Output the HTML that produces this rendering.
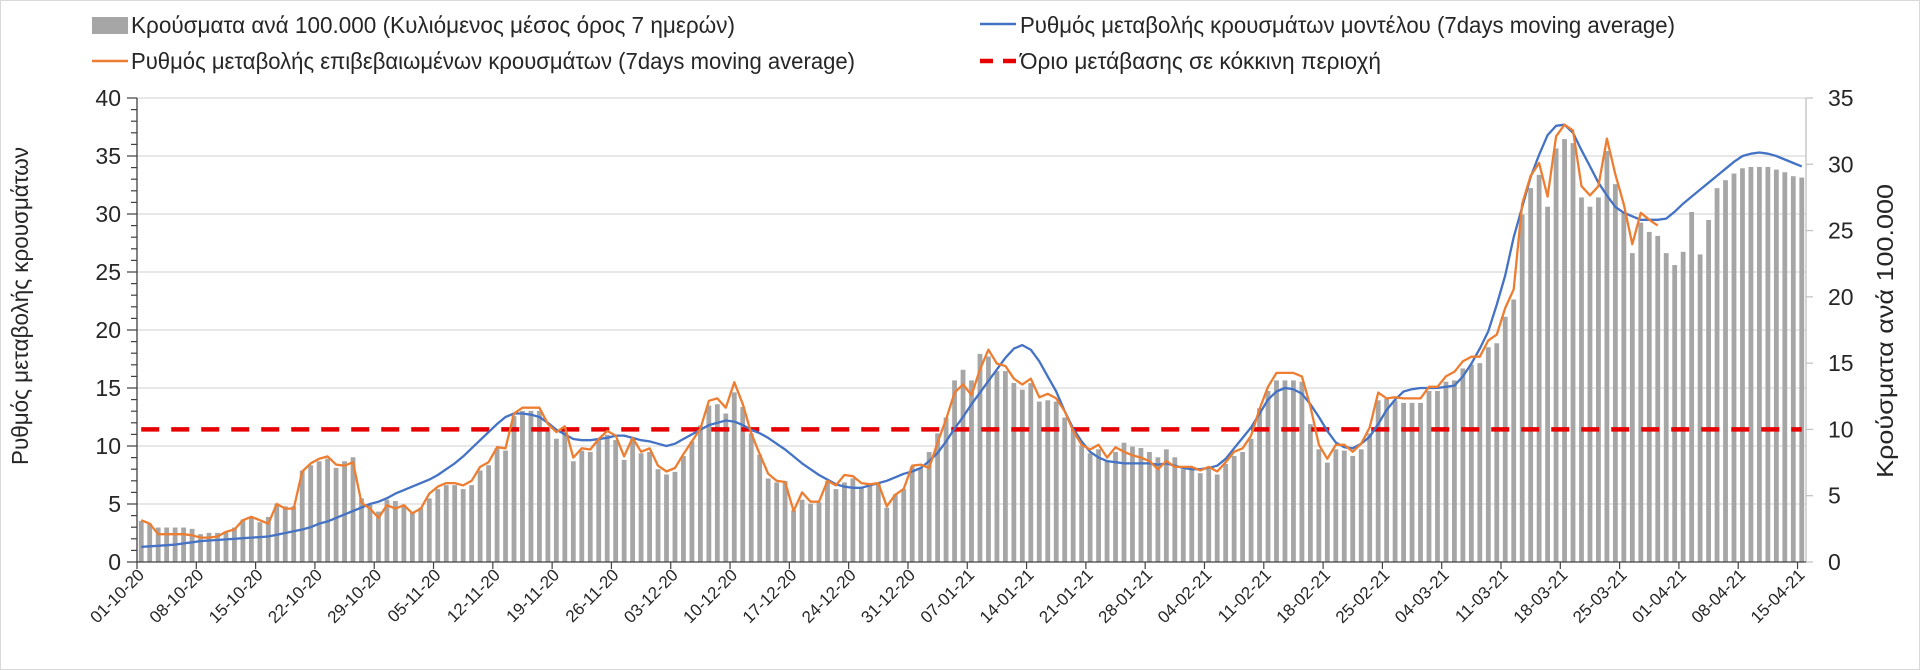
<!DOCTYPE html>
<html><head><meta charset="utf-8"><style>
html,body{margin:0;padding:0;background:#fff;}
svg{display:block;font-family:"Liberation Sans",sans-serif;}
</style></head><body>
<svg id="chart" width="1920" height="670" viewBox="0 0 1920 670" xmlns="http://www.w3.org/2000/svg">
<rect x="0.5" y="0.5" width="1919" height="669" fill="#fff" stroke="#d9d9d9"/>
<g>
 <g>
  <rect x="92" y="17" width="36" height="17" fill="#a6a6a6"/>
  <text x="131" y="33" font-size="23" fill="#262626" textLength="604" lengthAdjust="spacingAndGlyphs">Κρούσματα ανά 100.000 (Κυλιόμενος μέσος όρος 7 ημερών)</text>
 </g>
 <g>
  <line x1="92" y1="61" x2="128" y2="61" stroke="#ed7d31" stroke-width="2.5"/>
  <text x="131" y="69" font-size="23" fill="#262626" textLength="724" lengthAdjust="spacingAndGlyphs">Ρυθμός μεταβολής επιβεβαιωμένων κρουσμάτων (7days moving average)</text>
 </g>
 <g>
  <line x1="980" y1="24" x2="1016" y2="24" stroke="#4472c4" stroke-width="2.5"/>
  <text x="1020" y="33" font-size="23" fill="#262626" textLength="655" lengthAdjust="spacingAndGlyphs">Ρυθμός μεταβολής κρουσμάτων μοντέλου (7days moving average)</text>
 </g>
 <g>
  <line x1="980" y1="61" x2="1016" y2="61" stroke="#e60000" stroke-width="4.5" stroke-dasharray="13,10"/>
  <text x="1020" y="69" font-size="23" fill="#262626" textLength="361" lengthAdjust="spacingAndGlyphs">Όριο μετάβασης σε κόκκινη περιοχή</text>
 </g>
</g>
<g id="grid"></g>
<g id="bars"></g>
<g id="lines"></g>
<g id="axes"></g>
<text transform="translate(28,306) rotate(-90)" text-anchor="middle" font-size="23" fill="#262626" textLength="318" lengthAdjust="spacingAndGlyphs">Ρυθμός μεταβολής κρουσμάτων</text>
<text transform="translate(1893,331) rotate(-90)" text-anchor="middle" font-size="23" fill="#262626" textLength="294" lengthAdjust="spacingAndGlyphs">Κρούσματα ανά 100.000</text>
</svg>
<script>
const tickLabels = ["01-10-20","08-10-20","15-10-20","22-10-20","29-10-20","05-11-20","12-11-20","19-11-20","26-11-20","03-12-20","10-12-20","17-12-20","24-12-20","31-12-20","07-01-21","14-01-21","21-01-21","28-01-21","04-02-21","11-02-21","18-02-21","25-02-21","04-03-21","11-03-21","18-03-21","25-03-21","01-04-21","08-04-21","15-04-21"];
const leftTicks = [0,5,10,15,20,25,30,35,40];
const rightTicks = [0,5,10,15,20,25,30,35];
const redThreshold = [10];
const cases = [3.1,2.9,2.6,2.6,2.6,2.6,2.5,2.1,2.2,2.2,
2.3,2.6,3.2,3.4,3.0,3.4,4.4,4.2,4.2,6.9,
7.3,7.6,7.8,7.1,7.6,7.9,4.8,4.3,3.8,4.7,
4.6,4.3,3.7,4.1,4.8,5.5,5.8,5.8,5.5,5.8,
6.9,7.3,8.6,8.4,11.0,11.4,11.4,11.4,10.1,9.3,
10.1,7.6,8.4,8.3,9.2,
9.6,9.2,7.7,9.3,8.2,8.3,7.0,6.6,6.8,8.0,
9.1,10.3,11.8,11.9,11.2,12.8,11.7,9.7,8.1,6.3,
6.0,6.1,3.9,4.7,4.4,4.5,6.1,5.5,6.0,6.3,
5.6,5.8,5.9,4.1,5.1,5.5,7.2,7.1,8.3,9.7,
10.9,13.7,14.5,13.7,15.7,15.5,14.4,14.4,13.5,13.0,
13.5,12.1,12.2,12.1,10.9,9.8,8.8,8.2,8.5,7.6,
8.3,9.0,8.7,8.6,8.3,7.9,
8.5,7.9,7.0,7.0,6.7,7.0,6.6,7.4,8.0,8.3,
9.3,11.6,12.9,13.7,13.7,13.7,13.6,10.4,8.5,7.5,
8.5,8.4,8.0,8.5,9.7,12.2,12.3,12.2,12.0,12.0,
12.0,12.9,12.9,13.6,13.7,14.6,14.9,15.0,16.2,16.5,
18.5,19.8,26.2,28.2,29.2,26.8,31.2,31.9,31.6,27.5,
26.8,27.5,31.0,28.5,26.4,23.3,25.6,24.9,24.6,23.3,
22.4,23.4,26.4,23.2,25.8,28.2,28.8,29.3,29.7,29.8,
29.8,29.8,29.6,29.4,29.1,29.0];
const confirmedRate = [3.6,3.3,2.4,2.4,2.4,2.4,2.3,2.1,2.1,2.2,
2.6,2.8,3.6,3.9,3.6,3.3,5.0,4.6,4.6,7.8,
8.5,8.9,9.1,8.4,8.3,8.6,5.1,4.6,3.8,4.9,
4.6,4.9,4.2,4.6,5.9,6.5,6.8,6.8,6.6,7.0,
8.2,8.6,9.9,9.8,12.8,13.3,13.3,13.3,11.9,11.2,
11.7,9.0,9.8,9.7,10.6,
11.3,10.9,9.1,10.7,9.5,9.8,8.3,7.8,8.1,9.3,
10.4,11.5,13.9,14.1,13.3,15.5,13.6,11.1,9.3,7.6,
7.0,6.9,4.4,6.0,5.2,5.2,7.0,6.6,7.5,7.4,
6.8,6.7,6.8,4.8,5.8,6.3,8.3,8.4,8.1,10.3,
12.3,14.6,15.3,14.4,16.6,18.3,17.1,16.9,15.8,15.3,
15.8,14.2,14.5,14.1,13.0,11.3,10.1,9.7,10.1,9.0,
9.9,9.5,9.2,9.0,8.7,8.0,
8.7,8.2,8.2,8.2,7.9,8.2,7.8,8.6,9.5,9.8,
10.9,13.2,15.1,16.3,16.3,16.3,16.0,13.4,10.1,8.9,
10.1,10.1,9.5,10.2,11.6,14.6,14.1,14.2,14.1,14.1,
14.1,15.1,15.1,16.0,16.4,17.3,17.7,17.7,19.1,19.6,
21.9,23.5,30.9,33.3,34.4,31.5,36.7,37.7,37.2,32.4,
31.6,32.4,36.5,33.4,30.8,27.4,30.1,29.5,29.0];
const modelRate = [1.3,1.35,1.4,1.45,1.5,1.6,1.7,1.8,1.85,1.9,
1.95,2.0,2.05,2.1,2.15,2.2,2.35,2.5,2.65,2.8,
3.0,3.3,3.5,3.8,4.1,4.4,4.7,5.0,5.2,5.5,
5.9,6.2,6.5,6.8,7.1,7.5,8.0,8.5,9.1,9.8,
10.5,11.2,11.9,12.5,12.8,12.8,12.7,12.5,12.0,11.4,
11.0,10.6,10.5,10.5,10.6,10.7,10.9,10.9,10.7,10.5,
10.4,10.2,10.0,10.2,10.6,11.0,11.4,11.8,12.0,12.2,
12.1,11.8,11.4,11.1,10.7,10.2,9.7,9.1,8.5,8.0,
7.5,7.1,6.7,6.5,6.4,6.4,6.6,6.8,7.0,7.3,
7.6,7.8,8.1,8.7,9.4,10.4,11.5,12.5,13.6,14.6,
15.6,16.6,17.6,18.4,18.7,18.3,17.3,16.0,14.7,13.0,
11.5,10.4,9.5,9.0,8.7,8.6,8.5,8.5,8.5,8.5,
8.4,8.5,8.3,8.1,8.0,8.0,8.1,8.3,8.9,9.8,
10.7,11.6,12.8,14.0,14.7,15.0,14.9,14.5,13.6,12.5,
11.3,10.3,9.9,9.8,10.2,10.8,11.9,13.1,14.0,14.7,
14.9,15.0,15.0,15.0,15.1,15.2,16.0,17.1,18.4,19.9,
22.2,24.7,28.0,30.6,33.2,35.1,36.8,37.6,37.7,37.0,
35.5,34.1,32.7,31.6,30.6,30.1,29.8,29.5,29.5,29.5,
29.6,30.2,30.9,31.5,32.1,32.7,33.3,33.9,34.5,35.0,
35.2,35.3,35.2,35.0,34.7,34.4,34.1];

const NS = "http://www.w3.org/2000/svg";
const X0 = 137, X1 = 1806, Y0 = 562, YTOP = 98;
const N = cases.length;
const W = (X1 - X0) / N;
const xC = i => X0 + (i + 0.5) * W;
const yL = v => Y0 - v * (Y0 - YTOP) / 40;
const yR = v => Y0 - v * (Y0 - YTOP) / 35;
function mk(tag, attrs, parent) {
  const e = document.createElementNS(NS, tag);
  for (const k in attrs) e.setAttribute(k, attrs[k]);
  parent.appendChild(e);
  return e;
}
const grid = document.getElementById('grid');
const bars = document.getElementById('bars');
const lines = document.getElementById('lines');
const axes = document.getElementById('axes');

leftTicks.forEach(v => {
  if (v === 0) return;
  const g = mk('line', {x1: X0, x2: X1, y1: yL(v), y2: yL(v), stroke: '#d9d9d9', 'stroke-width': 1.3}, grid);
  
  
});

cases.forEach((v, i) => {
  const r = mk('rect', {x: xC(i) - 2.4, y: yR(v), width: 4.8, height: Y0 - yR(v), fill: '#a6a6a6'}, bars);
  
  
});

const red = mk('line', {x1: xC(0), x2: xC(N - 1), y1: yR(redThreshold[0]), y2: yR(redThreshold[0]), stroke: '#e60000', 'stroke-width': 4.5, 'stroke-dasharray': '18,12'}, lines);



const pts = arr => arr.map((v, i) => xC(i).toFixed(1) + ',' + yL(v).toFixed(1)).join(' ');
const lb = mk('polyline', {points: pts(modelRate), fill: 'none', stroke: '#4472c4', 'stroke-width': 2.3, 'stroke-linejoin': 'round'}, lines);


const lo = mk('polyline', {points: pts(confirmedRate), fill: 'none', stroke: '#ed7d31', 'stroke-width': 2.3, 'stroke-linejoin': 'round'}, lines);



// left axis
const la = mk('line', {x1: X0, x2: X0, y1: YTOP, y2: Y0, stroke: '#404040', 'stroke-width': 1.3}, axes);


for (let v = 0; v <= 40; v++) {
  const major = v % 5 === 0;
  const t = mk('line', {x1: major ? X0 - 10 : X0 - 6, x2: X0, y1: yL(v), y2: yL(v), stroke: '#404040', 'stroke-width': 1.2}, axes);
  
  
}
leftTicks.forEach(v => {
  const t = mk('text', {x: 121, y: yL(v) + 8, 'text-anchor': 'end', 'font-size': 23, fill: '#262626'}, axes);
  t.textContent = v;
  
  
});
// right axis
const ra = mk('line', {x1: X1, x2: X1, y1: YTOP, y2: Y0, stroke: '#bfbfbf', 'stroke-width': 1.3}, axes);


rightTicks.forEach(v => {
  const tk = mk('line', {x1: X1, x2: X1 + 7, y1: yR(v), y2: yR(v), stroke: '#bfbfbf', 'stroke-width': 1.2}, axes);
  
  
  const t = mk('text', {x: 1828, y: yR(v) + 8, 'text-anchor': 'start', 'font-size': 23, fill: '#262626'}, axes);
  t.textContent = v;
  
  
});
// x axis
const xa = mk('line', {x1: X0, x2: X1, y1: Y0, y2: Y0, stroke: '#404040', 'stroke-width': 1.3}, axes);


tickLabels.forEach((lab, k) => {
  const i = k * 7;
  const tx = X0 + i * W;
  const tk = mk('line', {x1: tx, x2: tx, y1: Y0, y2: Y0 + 7, stroke: '#404040', 'stroke-width': 1.2}, axes);
  
  
  const ax = xC(i) + 4, ay = Y0 + 14;
  const t = mk('text', {x: ax, y: ay, 'text-anchor': 'end', 'font-size': 17, fill: '#262626', transform: 'rotate(-45 ' + ax + ' ' + ay + ')'}, axes);
  t.textContent = lab;
  
  
});
</script>
</body></html>
